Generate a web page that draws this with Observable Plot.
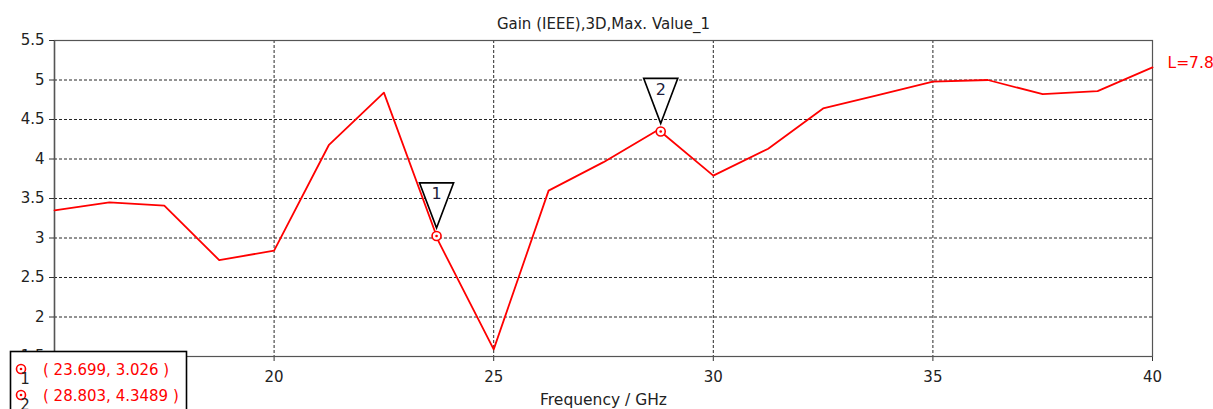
<!DOCTYPE html>
<html>
<head>
<meta charset="utf-8">
<script src="https://cdn.jsdelivr.net/npm/d3@7"></script>
<script src="https://cdn.jsdelivr.net/npm/@observablehq/plot@0.6"></script>
<style>
  body { margin: 0; background: #fff; }
  svg { display: block; }
</style>
</head>
<body>
<div id="chart"></div>
<script>
// Frequency sweep (GHz) and realized gain curve
const freq = [15, 16.25, 17.5, 18.75, 20, 21.25, 22.5, 23.75, 25, 26.25, 27.5,
              28.75, 30, 31.25, 32.5, 33.75, 35, 36.25, 37.5, 38.75, 40];
const gain = [3.35, 3.45, 3.41, 2.72, 2.84, 4.18, 4.84, 2.95, 1.59, 3.60, 3.96,
              4.37, 3.79, 4.13, 4.64, 4.81, 4.98, 5.0, 4.82, 4.86, 5.16];

// Marker readouts
const markerIds = [1, 2];
const markerFreq = [23.699, 28.803];
const markerGain = [3.026, 4.3489];

// Axis ticks
const xTicks = [15, 20, 25, 30, 35, 40];
const yTicks = [1.5, 2, 2.5, 3, 3.5, 4, 4.5, 5, 5.5];
const xGrid = [20, 25, 30, 35];
const yGrid = [2, 2.5, 3, 3.5, 4, 4.5, 5];

const title = "Gain (IEEE),3D,Max. Value_1";
const xLabel = "Frequency / GHz";
const curveLabel = "L=7.8";

const FONT = "'DejaVu Sans', sans-serif";
const RED = "#ff0000";

const curve = freq.map((f, i) => ({f, g: gain[i]}));
const markers = markerIds.map((id, i) => ({id, f: markerFreq[i], g: markerGain[i]}));

// Inverted triangular flag hanging above each marker point
const flag = {
  draw(ctx) {
    ctx.moveTo(0, -8);
    ctx.lineTo(-17, -53);
    ctx.lineTo(17, -53);
    ctx.closePath();
  }
};

const chart = Plot.plot({
  width: 1213,
  height: 409,
  marginLeft: 54,
  marginRight: 61,
  marginTop: 40,
  marginBottom: 53,
  style: {fontFamily: FONT, fontSize: "15px", color: "#222", background: "#fff"},
  x: {domain: [15, 40]},
  y: {domain: [1.5, 5.5]},
  marks: [
    Plot.gridX(xGrid, {stroke: "#000", strokeOpacity: 0.85, strokeDasharray: "3,2"}),
    Plot.gridY(yGrid, {stroke: "#000", strokeOpacity: 0.85, strokeDasharray: "3,2"}),
    Plot.axisX({ticks: xTicks, tickSize: 5, tickPadding: 10, label: null, fontSize: 15, stroke: "#333"}),
    Plot.axisY({ticks: yTicks, tickSize: 5, tickPadding: 5, label: null, fontSize: 15,
                tickFormat: d => String(d), stroke: "#333"}),
    Plot.ruleX([15], {stroke: "#000", strokeWidth: 1.3}),
    Plot.frame({stroke: "#555", strokeWidth: 1.2}),
    Plot.line(curve, {x: "f", y: "g", stroke: RED, strokeWidth: 1.8}),
    Plot.dot(markers, {x: "f", y: "g", symbol: flag, r: 10, fill: "#fff", stroke: "#000", strokeWidth: 1.7}),
    Plot.text(markers, {x: "f", y: "g", text: d => String(d.id), dy: -42, fontSize: 16, fill: "#1b1b3a"}),
    Plot.dot(markers, {x: "f", y: "g", r: 4.5, fill: "#fff", stroke: RED, strokeWidth: 1.6}),
    Plot.dot(markers, {x: "f", y: "g", r: 1.3, fill: RED, stroke: "none"}),
    Plot.text([title], {frameAnchor: "top", dy: -22, fontSize: 15, fill: "#222"}),
    Plot.text([xLabel], {frameAnchor: "bottom", dy: 48, fontSize: 15.5, fill: "#222"}),
    Plot.text([curveLabel], {frameAnchor: "top-right", dx: 15, dy: 16, textAnchor: "start",
                             fontSize: 15.5, fill: RED})
  ]
});

document.getElementById("chart").appendChild(chart);

// Marker readout box in the lower-left corner
const svg = d3.select(chart);
const box = svg.append("g").attr("font-family", FONT).attr("text-anchor", "start");
box.append("rect")
  .attr("x", 10.5).attr("y", 351.5).attr("width", 176).attr("height", 80)
  .attr("fill", "#fff").attr("stroke", "#000").attr("stroke-width", 1.6);
markers.forEach((m, i) => {
  const cy = 369 + i * 26;
  box.append("circle").attr("cx", 21).attr("cy", cy).attr("r", 4.5)
    .attr("fill", "#fff").attr("stroke", RED).attr("stroke-width", 1.6);
  box.append("circle").attr("cx", 21).attr("cy", cy).attr("r", 1.3).attr("fill", RED);
  box.append("text").attr("x", 25).attr("y", cy + 15).attr("text-anchor", "middle")
    .attr("font-size", 15).attr("fill", "#222").text(String(m.id));
  box.append("text").attr("x", 43).attr("y", cy + 6).attr("text-anchor", "start")
    .attr("font-size", 15).attr("fill", RED)
    .text(`( ${m.f}, ${m.g} )`);
});
</script>
</body>
</html>
